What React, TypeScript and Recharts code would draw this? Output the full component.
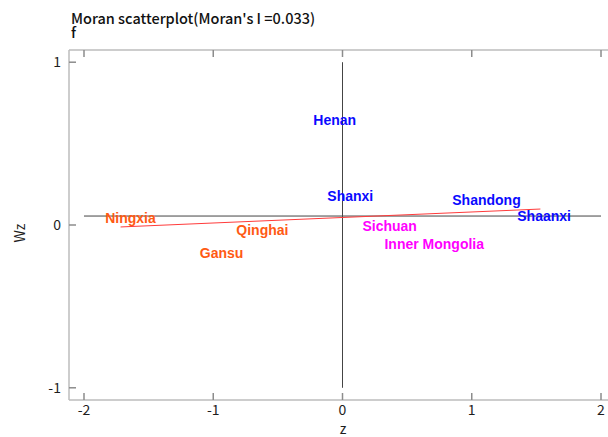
import { ScatterChart, Scatter, XAxis, YAxis, ReferenceLine } from "recharts";

// standardized z vs spatial lag Wz, grouped by quadrant colour
const highHigh = [
  { name: "Henan", z: -0.06, wz: 0.645 },
  { name: "Shanxi", z: 0.06, wz: 0.178 },
  { name: "Shandong", z: 1.114, wz: 0.152 },
  { name: "Shaanxi", z: 1.56, wz: 0.058 },
];
const lowLow = [
  { name: "Ningxia", z: -1.64, wz: 0.045 },
  { name: "Qinghai", z: -0.62, wz: -0.032 },
  { name: "Gansu", z: -0.935, wz: -0.17 },
];
const highLow = [
  { name: "Sichuan", z: 0.365, wz: -0.007 },
  { name: "Inner Mongolia", z: 0.71, wz: -0.118 },
];

const xTicks = [-2, -1, 0, 1, 2];
const yTicks = [-1, 0, 1];
const meanWz = 0.055;
const fitEnds = [
  { z: -1.717, wz: -0.012 },
  { z: 1.531, wz: 0.098 },
];

const FRAME = "#bdbdbd";
const TICK = "#8c8c8c";
const TEXT = "#1e1e1e";
const SANS = "'Noto Sans CJK SC', 'Noto Sans', sans-serif";
const LABEL_FONT = "'Liberation Sans', Arial, sans-serif";

const BottomTick = (p: any) => (
  <g>
    <line x1={p.x} x2={p.x} y1={p.y} y2={p.y - 7} stroke={TICK} strokeWidth={1.5} />
    <text x={p.x} y={p.y + 15} textAnchor="middle" fontSize={14} fontFamily={SANS} fill={TEXT}>
      {p.payload.value}
    </text>
  </g>
);
const TopTick = (p: any) => (
  <line x1={p.x} x2={p.x} y1={p.y} y2={p.y + 7} stroke={TICK} strokeWidth={1.5} />
);
const LeftTick = (p: any) => (
  <g>
    <line x1={p.x} x2={p.x + 7} y1={p.y} y2={p.y} stroke={TICK} strokeWidth={1.5} />
    <text x={p.x - 8} y={p.y + 5} textAnchor="end" fontSize={14} fontFamily={SANS} fill={TEXT}>
      {p.payload.value}
    </text>
  </g>
);
const RightTick = (p: any) => (
  <line x1={p.x} x2={p.x - 7} y1={p.y} y2={p.y} stroke={TICK} strokeWidth={1.5} />
);

const nameLabel = (color: string) => (p: any) => (
  <text
    x={p.cx}
    y={p.cy}
    textAnchor="middle"
    dominantBaseline="central"
    fontSize={14}
    fontWeight="bold"
    fontFamily={LABEL_FONT}
    fill={color}
  >
    {p.payload.name}
  </text>
);

export default function App() {
  return (
    <div style={{ position: "absolute", left: 0, top: 0, width: 608, height: 437, overflow: "hidden", background: "#fff" }}>
      <ScatterChart width={626} height={437} margin={{ top: 49, right: 0, bottom: 7, left: 29 }}>
        <XAxis
          xAxisId="b"
          dataKey="z"
          type="number"
          orientation="bottom"
          height={30}
          domain={[-2.116, 2.116]}
          allowDataOverflow
          ticks={xTicks}
          tickSize={0}
          tickMargin={0}
          tickLine={false}
          axisLine={{ stroke: FRAME, strokeWidth: 1.5 }}
          tick={BottomTick}
        />
        <XAxis
          xAxisId="t"
          dataKey="z"
          type="number"
          orientation="top"
          height={1}
          domain={[-2.116, 2.116]}
          allowDataOverflow
          ticks={xTicks}
          tickSize={0}
          tickMargin={0}
          tickLine={false}
          axisLine={{ stroke: FRAME, strokeWidth: 1.5 }}
          tick={TopTick}
        />
        <YAxis
          yAxisId="l"
          dataKey="wz"
          type="number"
          orientation="left"
          width={40}
          domain={[-1.075, 1.075]}
          allowDataOverflow
          ticks={yTicks}
          tickSize={0}
          tickMargin={0}
          tickLine={false}
          axisLine={{ stroke: FRAME, strokeWidth: 1.5 }}
          tick={LeftTick}
        />
        <YAxis
          yAxisId="r"
          dataKey="wz"
          type="number"
          orientation="right"
          width={10}
          domain={[-1.075, 1.075]}
          allowDataOverflow
          ticks={yTicks}
          tickSize={0}
          tickMargin={0}
          tickLine={false}
          axisLine={{ stroke: FRAME, strokeWidth: 1.5 }}
          tick={RightTick}
        />
        <ReferenceLine
          xAxisId="b"
          yAxisId="l"
          segment={[{ x: 0, y: -1 }, { x: 0, y: 1 }]}
          stroke="#444"
          strokeWidth={1}
        />
        <ReferenceLine
          xAxisId="b"
          yAxisId="l"
          segment={[{ x: -2, y: meanWz }, { x: 2, y: meanWz }]}
          stroke="#444"
          strokeWidth={1}
        />
        <ReferenceLine
          xAxisId="b"
          yAxisId="l"
          segment={[{ x: fitEnds[0].z, y: fitEnds[0].wz }, { x: fitEnds[1].z, y: fitEnds[1].wz }]}
          stroke="#ff3b3b"
          strokeWidth={1}
        />
        <Scatter xAxisId="b" yAxisId="l" data={highHigh} shape={nameLabel("#0a0aff")} isAnimationActive={false} />
        <Scatter xAxisId="b" yAxisId="l" data={lowLow} shape={nameLabel("#ff5a14")} isAnimationActive={false} />
        <Scatter xAxisId="b" yAxisId="l" data={highLow} shape={nameLabel("#ff00ff")} isAnimationActive={false} />
      </ScatterChart>
      <svg width={608} height={437} style={{ position: "absolute", left: 0, top: 0, pointerEvents: "none" }}>
        <text x={71} y={23.5} fontSize={14.5} fontWeight={500} fontFamily={SANS} fill="#111">
          Moran scatterplot(Moran's I =0.033)
        </text>
        <text x={71} y={37.5} fontSize={14.5} fontWeight={500} fontFamily={SANS} fill="#111">
          f
        </text>
        <text x={343} y={434} textAnchor="middle" fontSize={14} fontFamily={SANS} fill={TEXT}>
          z
        </text>
        <text x={25} y={233} transform="rotate(-90 25 233)" textAnchor="middle" fontSize={14} fontFamily={SANS} fill={TEXT}>
          Wz
        </text>
      </svg>
    </div>
  );
}
